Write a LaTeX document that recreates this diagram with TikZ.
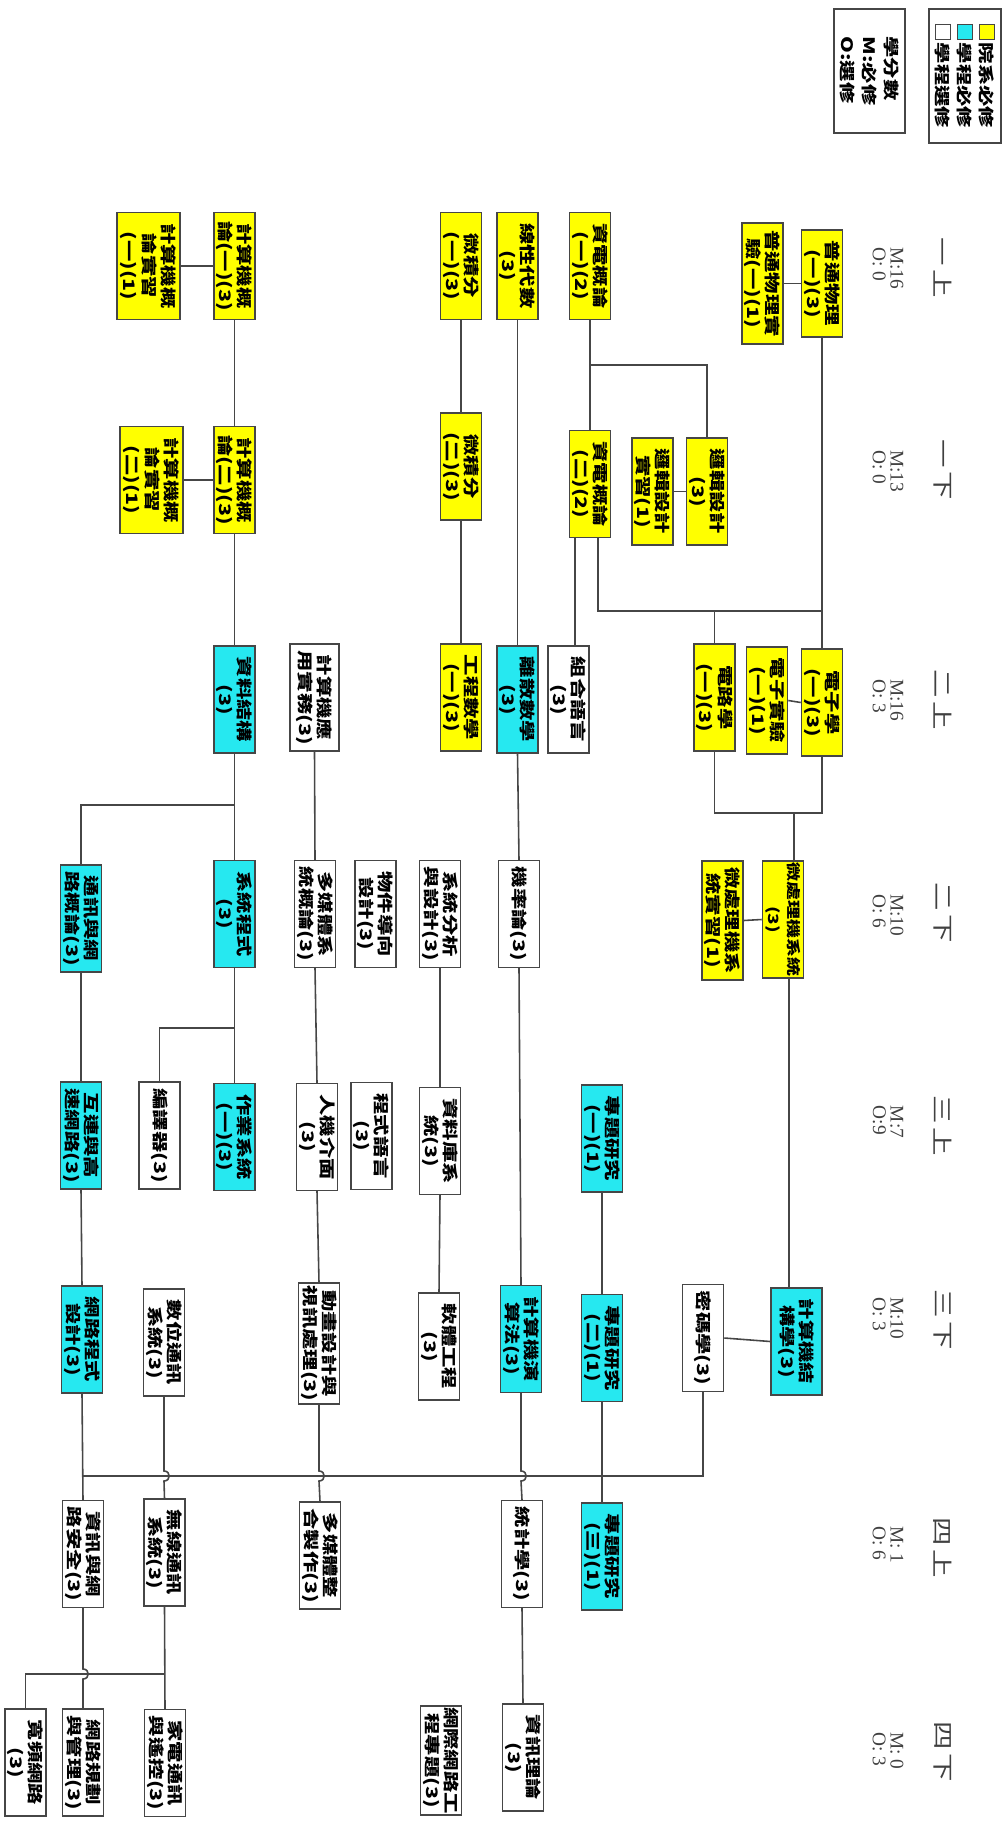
\documentclass[tikz,border=0pt]{standalone}
\usepackage{fontspec}
\newfontfamily\cjk[FakeStretch=1.35]{Noto Sans CJK TC}
\newfontfamily\lserif{Liberation Serif}
\usepackage{xcolor}
\usepackage{tikz}
\usetikzlibrary{positioning,calc}

\definecolor{deptyellow}{RGB}{255,255,0}
\definecolor{progcyan}{RGB}{38,232,240}
\definecolor{linegray}{RGB}{70,70,70}
\newcommand{\swatch}[1]{{\setlength{\fboxsep}{0pt}\setlength{\fboxrule}{0.6pt}%
  \fcolorbox{linegray}{#1}{\rule{0pt}{8pt}\rule{8pt}{0pt}}}\,}

\begin{document}
\begin{tikzpicture}[
  x=0.02cm, y=-0.02cm,
  course/.style={draw=linegray,line width=0.9pt,rotate=-90,inner sep=0.5pt,
                 text width=2.1cm,minimum height=0.82cm,align=center,
                 font=\cjk\bfseries\fontsize{9}{11}\selectfont},
  dept/.style={course,fill=deptyellow},
  prog/.style={course,fill=progcyan},
  opt/.style={course,fill=white},
  legend/.style={draw=linegray,line width=0.9pt,rotate=-90,fill=white,align=left,
                 font=\cjk\bfseries\fontsize{9}{12.5}\selectfont},
  term/.style={rotate=-90,font=\cjk\fontsize{12}{12}\selectfont,text=black!75},
  credit/.style={rotate=-90,align=left,font=\lserif\fontsize{11}{10}\selectfont,text=black!75},
  link/.style={draw=linegray,line width=0.9pt}
]
\useasboundingbox (0,0) rectangle (1002,1838);

% ---- legend ----
\node[legend,minimum width=2.68cm,minimum height=1.36cm] (legcolor) at (965,76)
  {\swatch{deptyellow}院系必修\\\swatch{progcyan}學程必修\\\swatch{white}學程選修};
\node[legend,minimum width=2.48cm,minimum height=1.34cm] (legcredit) at (869.5,71)
  {學分數\\M:必修\\O:選修};

% ---- semester headers ----
\node[term] (t11) at (943,268) {一\hspace{2pt}上};
\node[credit] (c11) at (888,268) {M:16\\O: 0};
\node[term] (t12) at (943,470) {一\hspace{2pt}下};
\node[credit] (c12) at (888,471) {M:13\\O: 0};
\node[term] (t21) at (943,700) {二\hspace{2pt}上};
\node[credit] (c21) at (888,700) {M:16\\O: 3};
\node[term] (t22) at (943,913) {二\hspace{2pt}下};
\node[credit] (c22) at (888,915) {M:10\\O: 6};
\node[term] (t31) at (943,1126) {三\hspace{2pt}上};
\node[credit] (c31) at (888,1122) {M:7\\O:9};
\node[term] (t32) at (943,1320) {三\hspace{2pt}下};
\node[credit] (c32) at (888,1318) {M:10\\O: 3};
\node[term] (t41) at (943,1548) {四\hspace{2pt}上};
\node[credit] (c41) at (888,1545) {M: 1\\O: 6};
\node[term] (t42) at (943,1752) {四\hspace{2pt}下};
\node[credit] (c42) at (888,1751) {M: 0\\O: 3};

% ---- 1st year, fall ----
\node[dept,minimum height=1.26cm] (lab1) at (148.5,266) {計算機概\\論實習\\(一)(1)};
\node[dept] (intro1) at (234.5,266) {計算機概\\論(一)(3)};
\node[dept] (calc1) at (461,266) {微積分\\(一)(3)};
\node[dept] (linalg) at (517.5,266) {線性代數\\(3)};
\node[dept] (ee1) at (590,266) {資電概論\\(一)(2)};
\node[dept,text width=2.38cm] (phylab) at (762.5,283.5) {普通物理實\\驗(一)(1)};
\node[dept] (phy1) at (822,283.5) {普通物理\\(一)(3)};

% ---- 1st year, spring ----
\node[dept,minimum height=1.26cm] (lab2) at (151.5,480) {計算機概\\論實習\\(二)(1)};
\node[dept] (intro2) at (234.5,480) {計算機概\\論(二)(3)};
\node[dept] (calc2) at (461,466.5) {微積分\\(二)(3)};
\node[dept] (ee2) at (590,484) {資電概論\\(二)(2)};
\node[dept] (logiclab) at (652.5,491.5) {邏輯設計\\實習(1)};
\node[dept] (logic) at (707,491.5) {邏輯設計\\(3)};

% ---- 2nd year, fall ----
\node[prog] (ds) at (234.5,699.5) {資料結構\\(3)};
\node[opt,minimum height=0.98cm] (cpa) at (314.5,697.5) {計算機應\\用實務(3)};
\node[dept] (engm) at (461,697.5) {工程數學\\(一)(3)};
\node[prog] (dm) at (517.5,699.5) {離散數學\\(3)};
\node[opt] (asm) at (568.5,699.5) {組合語言\\(3)};
\node[dept] (circ) at (714.5,697.5) {電路學\\(一)(3)};
\node[dept] (elab) at (767,700.5) {電子實驗\\(一)(1)};
\node[dept] (elec1) at (822,702.5) {電子學\\(一)(3)};

% ---- 2nd year, spring ----
\node[prog] (netintro) at (81,918.5) {通訊與網\\路概論(3)};
\node[prog] (sysprog) at (234.5,914) {系統程式\\(3)};
\node[opt] (mmsys) at (315,914) {多媒體系\\統概論(3)};
\node[opt] (oop) at (375.5,914) {物件導向\\設計(3)};
\node[opt] (sad) at (440,914) {系統分析\\與設計(3)};
\node[opt] (prob) at (519,914) {機率論(3)};
\node[dept,text width=2.34cm] (mplab) at (722.5,920.5) {微處理機系\\統實習(1)};
\node[dept,text width=2.3cm,font=\cjk\bfseries\fontsize{8}{11}\selectfont] (mp) at (783,919.5) {微處理機系統\\(3)};

% ---- 3rd year, fall ----
\node[prog] (inet) at (81,1135.5) {互連與高\\速網路(3)};
\node[opt] (compiler) at (159.5,1135.5) {編譯器(3)};
\node[prog] (os) at (234.5,1137) {作業系統\\(一)(3)};
\node[opt] (hci) at (317,1137) {人機介面\\(3)};
\node[opt] (plang) at (371.5,1136) {程式語言\\(3)};
\node[opt] (dbs) at (440,1141) {資料庫系\\統(3)};
\node[prog] (proj1) at (602,1138.5) {專題研究\\(一)(1)};

% ---- 3rd year, spring ----
\node[prog] (netprog) at (82,1339.5) {網路程式\\設計(3)};
\node[opt] (dcomm) at (164,1342.5) {數位通訊\\系統(3)};
\node[opt,text width=2.38cm] (anim) at (319,1343.5) {動畫設計與\\視訊處理(3)};
\node[opt] (se) at (439,1346.5) {軟體工程\\(3)};
\node[prog] (algo) at (521,1339) {計算機演\\算法(3)};
\node[prog] (proj2) at (602,1348) {專題研究\\(二)(1)};
\node[opt] (crypto) at (703,1338) {密碼學(3)};
\node[prog,minimum height=1.02cm] (arch) at (796.5,1341.5) {計算機結\\構學(3)};

% ---- 4th year, fall ----
\node[opt] (netsec) at (83,1554) {資訊與網\\路安全(3)};
\node[opt] (wcomm) at (164.5,1552.5) {無線通訊\\系統(3)};
\node[opt] (mmprod) at (320,1555.5) {多媒體整\\合製作(3)};
\node[opt] (stat) at (522,1554) {統計學(3)};
\node[prog] (proj3) at (602,1556.5) {專題研究\\(三)(1)};

% ---- 4th year, spring ----
\node[opt] (bband) at (25.5,1762.5) {寬頻網路\\(3)};
\node[opt] (netmgmt) at (83,1762.5) {網路規劃\\與管理(3)};
\node[opt] (homenet) at (165,1763) {家電通訊\\與遙控(3)};
\node[opt,text width=2.14cm] (inetproj) at (441,1760.5) {網際網路工\\程專題(3)};
\node[opt] (infoth) at (523,1757.5) {資訊理論\\(3)};

% ---- prerequisite links ----
\coordinate (ee1split) at (590,365);
\coordinate (ee2join) at (822,611);
\coordinate (mpjoin) at (794,813);
\coordinate (dssplit) at (234.5,805);
\coordinate (spsplit) at (234.5,1028);
\coordinate (busL) at (82,1476);
\coordinate (wsplit) at (164.5,1674);

\draw[link] (lab1.north) -- (intro1.south);
\draw[link] (intro1.east) -- (intro2.west);
\draw[link] (lab2.north) -- (intro2.south);
\draw[link] (intro2.east) -- (ds.west);
\draw[link] (calc1.east) -- (calc2.west);
\draw[link] (calc2.east) -- (engm.west);
\draw[link] (linalg.east) -- (dm.west);
\draw[link] (dm.east) -- (prob.west);
\draw[link] (ee1.east) -- (ee2.west);
\draw[link] (ee1split) -| (logic.west);
\draw[link] (phylab.north) -- (phy1.south);
\draw[link] (phy1.east) -- (elec1.west);
\draw[link] (logiclab.north) -- (logic.south);
\draw[link] ($(ee2.east)+(-15,0)$) coordinate (ee2a) -- (ee2a |- asm.west);
\draw[link] ($(ee2.east)+(8,0)$) |- (ee2join);
\draw[link] (circ.west |- ee2join) -- (circ.west);
\draw[link] (elab.north) -- (elec1.south);
\draw[link] (circ.east) |- (elec1.east |- mpjoin) -- (elec1.east);
\draw[link] (mpjoin) -- (mpjoin |- mp.west);
\draw[link] (mplab.north) -- (mp.south);
\draw[link] ($(mp.east)+(6,0)$) coordinate (mpa) -- (mpa |- arch.west);
\draw[link] (crypto.north) -- (arch.south);

\draw[link] (ds.east) -- (sysprog.west);
\draw[link] (dssplit) -| (netintro.west);
\draw[link] (cpa.east) -- (mmsys.west);
\draw[link] (sysprog.east) -- (os.west);
\draw[link] (spsplit) -| (compiler.west);
\draw[link] (netintro.east) -- (inet.west);
\draw[link] (inet.east) -- (netprog.west);
\draw[link] (mmsys.east) -- (hci.west);
\draw[link] (sad.east) -- (dbs.west);
\draw[link] (dbs.east) -- (se.west);
\draw[link] (prob.east) -- (algo.west);
\draw[link] (hci.east) -- (anim.west);
\draw[link] (proj1.east) -- (proj2.west);
\draw[link] (proj2.east) -- (proj3.west);

% ---- bus to network security, with hops ----
\draw[link] (crypto.east) |- (busL);
\draw[link] (netprog.east) -- (netsec.west);
\draw[link] (dcomm.east) -- ($(dcomm.east |- busL)+(0,-5)$)
  .. controls +(7,0) and +(7,0) .. ($(dcomm.east |- busL)+(0,5)$) -- (wcomm.west);
\draw[link] (anim.east) -- ($(anim.east |- busL)+(0,-5)$)
  .. controls +(7,0) and +(7,0) .. ($(anim.east |- busL)+(0,5)$) -- (mmprod.west);
\draw[link] (algo.east) -- ($(algo.east |- busL)+(0,-5)$)
  .. controls +(7,0) and +(7,0) .. ($(algo.east |- busL)+(0,5)$) -- (stat.west);
\draw[link] (stat.east) -- (infoth.west);

% ---- 4th year spring links ----
\draw[link] (wcomm.east) -- (homenet.west);
\draw[link] (wsplit) -| (bband.west);
\draw[link] (netsec.east) -- ($(netsec.east |- wsplit)+(0,-5)$)
  .. controls +(7,0) and +(7,0) .. ($(netsec.east |- wsplit)+(0,5)$) -- (netmgmt.west);

\end{tikzpicture}
\end{document}
